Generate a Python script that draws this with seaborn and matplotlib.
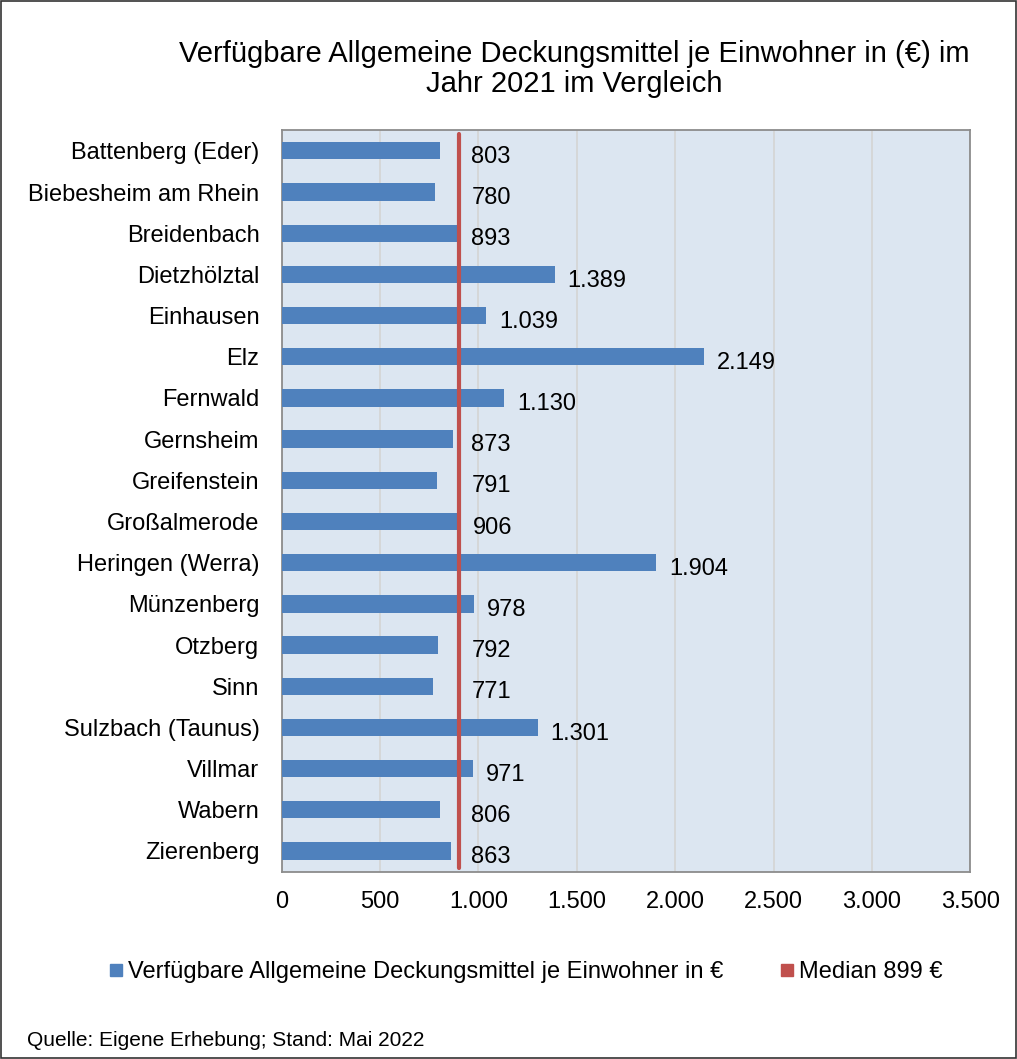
import pandas as pd
import matplotlib.pyplot as plt
import seaborn as sns
from matplotlib.lines import Line2D
from matplotlib.patches import Rectangle

sns.set_theme(style="white")
plt.rcParams["font.family"] = ["Liberation Sans", "DejaVu Sans"]
plt.rcParams["text.color"] = "black"
plt.rcParams["xtick.color"] = "black"
plt.rcParams["ytick.color"] = "black"

gemeinden = ["Battenberg (Eder)", "Biebesheim am Rhein", "Breidenbach", "Dietzhölztal",
             "Einhausen", "Elz", "Fernwald", "Gernsheim", "Greifenstein", "Großalmerode",
             "Heringen (Werra)", "Münzenberg", "Otzberg", "Sinn", "Sulzbach (Taunus)",
             "Villmar", "Wabern", "Zierenberg"]
werte = [803, 780, 893, 1389, 1039, 2149, 1130, 873, 791, 906, 1904, 978, 792, 771,
         1301, 971, 806, 863]
median = 899
x_ticks = [0, 500, 1000, 1500, 2000, 2500, 3000, 3500]

df = pd.DataFrame({"Gemeinde": gemeinden, "Wert": werte})

def de_fmt(v):
    return f"{v:,}".replace(",", ".")

blue = "#4F81BD"
red = "#C0504D"

fig = plt.figure(figsize=(10.17, 10.59), dpi=100)
ax = fig.add_axes([0.277, 0.177, 0.677, 0.700])

sns.barplot(data=df, x="Wert", y="Gemeinde", color=blue, width=0.42, saturation=1,
            linewidth=0, ax=ax, zorder=3)
ax.set_facecolor("#DCE6F1")
ax.set_xlim(0, 3500)
ax.set_xticks(x_ticks)
ax.set_xticklabels([de_fmt(t) for t in x_ticks], fontsize=17)
ax.tick_params(axis="y", labelsize=17, length=0, pad=16)
ax.tick_params(axis="x", length=0, pad=14)
ax.grid(axis="x", color="#D4D4D4", linewidth=1.2, zorder=0)
ax.set_xlabel("")
ax.set_ylabel("")
for s in ax.spines.values():
    s.set_color("#8C8C8C")
    s.set_linewidth(1.3)

ax.axvline(median, color=red, linewidth=3, zorder=4, ymin=0.005, ymax=0.995)

for i, v in enumerate(werte):
    ax.text(max(v, median) + 65, i + 0.15, de_fmt(v), va="center", ha="left", fontsize=17, zorder=5)

fig.text(0.565, 0.935, "Verfügbare Allgemeine Deckungsmittel je Einwohner in (€) im\nJahr 2021 im Vergleich",
         ha="center", va="center", fontsize=21, linespacing=1.1)

handles = [Line2D([], [], marker="s", linestyle="", color=blue, markersize=9),
           Line2D([], [], marker="s", linestyle="", color=red, markersize=9)]
fig.legend(handles, ["Verfügbare Allgemeine Deckungsmittel je Einwohner in €", "Median 899 €"],
           loc="center", bbox_to_anchor=(0.515, 0.082), ncol=2, frameon=False, fontsize=17,
           handletextpad=0.0, columnspacing=2.2, handlelength=1.0)

fig.text(0.027, 0.017, "Quelle: Eigene Erhebung; Stand: Mai 2022", fontsize=15, ha="left", va="center")

fig.patches.append(Rectangle((0.001, 0.001), 0.998, 0.998, transform=fig.transFigure,
                             fill=False, edgecolor="#333333", linewidth=1.2))

fig.savefig("out.png", dpi=100)
